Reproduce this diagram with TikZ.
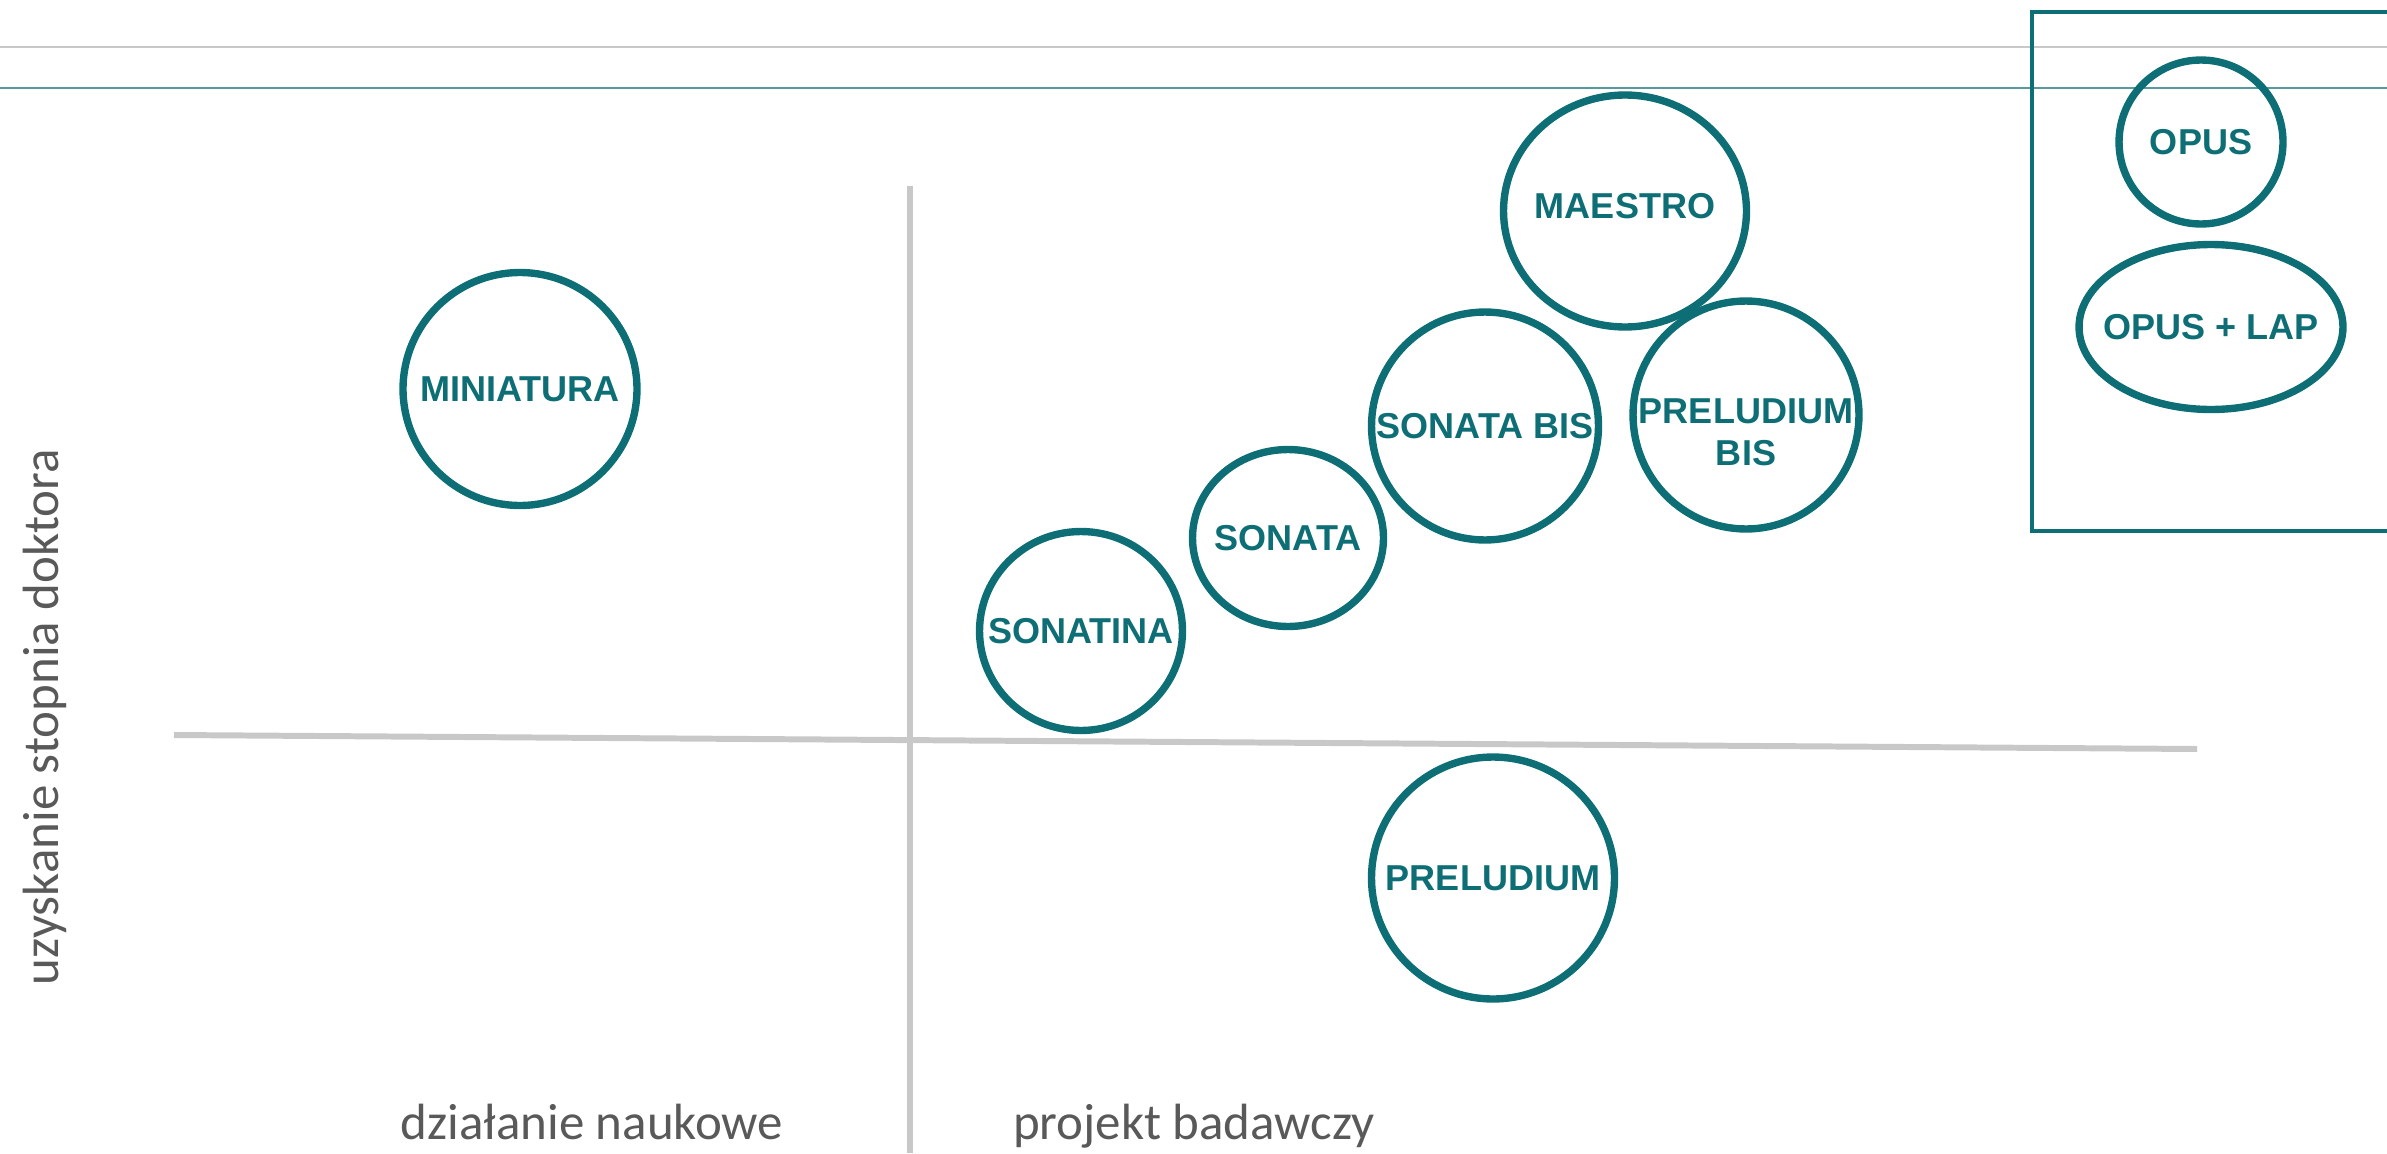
\documentclass[tikz,border=0pt]{standalone}
\usepackage{fontspec}
\setmainfont{Liberation Sans}
\newfontfamily\axisfont{Carlito}
\usetikzlibrary{shapes.geometric}

\definecolor{ncnteal}{RGB}{13,110,117}
\definecolor{axisgray}{RGB}{200,200,200}
\definecolor{labelgray}{RGB}{89,89,89}

\tikzstyle{grant} = [ellipse, draw=ncnteal, line width=4.2pt, inner sep=0pt]
\tikzstyle{grantlabel} = [text=ncnteal, font=\fontsize{20.5}{24}\selectfont\bfseries, align=center]
\tikzstyle{axis} = [draw=axisgray, line width=3.4pt]
\tikzstyle{axislabel} = [text=labelgray, font=\axisfont\fontsize{29}{32}\selectfont]

\begin{document}
\begin{tikzpicture}[x=0.02cm, y=-0.02cm]
\useasboundingbox (0,0) rectangle (2387,1153);

% header lines
\draw [axisgray, line width=1.2pt] (0,47) -- (2387,47);
\draw [ncnteal!70, line width=1.2pt] (0,88) -- (2387,88);

% axes
\coordinate (xleft) at (174,735);
\coordinate (xright) at (2197,749);
\coordinate (ytop) at (910,186);
\coordinate (ybottom) at (910,1153);
\draw [axis] (xleft) -- (xright);
\draw [axis] (ytop) -- (ybottom);

\node (ylabel) [axislabel, rotate=90] at (45,717) {uzyskanie stopnia doktora};
\node (scilabel) [axislabel, anchor=base] at (592,1139) {działanie naukowe};
\node (projlabel) [axislabel, anchor=base] at (1194,1139) {projekt badawczy};

% grants
\node (miniatura) [grant, minimum width=4.68cm, minimum height=4.66cm, label={[grantlabel]center:MINIATURA}] at (520,389) {};
\node (sonatina) [grant, minimum width=4.06cm, minimum height=3.98cm, label={[grantlabel]center:SONATINA}] at (1081,631) {};
\node (sonata) [grant, minimum width=3.82cm, minimum height=3.54cm, label={[grantlabel]center:SONATA}] at (1288,538) {};
\node (sonatabis) [grant, minimum width=4.54cm, minimum height=4.56cm, label={[grantlabel]center:SONATA BIS}] at (1485,426) {};
\node (maestro) [grant, minimum width=4.86cm, minimum height=4.64cm, label={[grantlabel, yshift=0.1cm]center:MAESTRO}] at (1625,211) {};
\node (preludiumbis) [grant, minimum width=4.52cm, minimum height=4.56cm, label={[grantlabel, yshift=-0.34cm]center:{PRELUDIUM\\BIS}}] at (1746,415) {};
\node (preludium) [grant, minimum width=4.86cm, minimum height=4.84cm, label={[grantlabel]center:PRELUDIUM}] at (1493,878) {};

% opus box
\coordinate (boxnw) at (2032,12);
\coordinate (boxse) at (2420,531);
\draw [ncnteal, line width=1.9pt] (boxnw) rectangle (boxse);
\node (opus) [grant, minimum width=3.28cm, minimum height=3.28cm, label={[grantlabel]center:OPUS}] at (2201,142) {};
\node (opuslap) [grant, minimum width=5.28cm, minimum height=3.30cm, label={[grantlabel]center:OPUS + LAP}] at (2211,327) {};

\end{tikzpicture}
\end{document}
